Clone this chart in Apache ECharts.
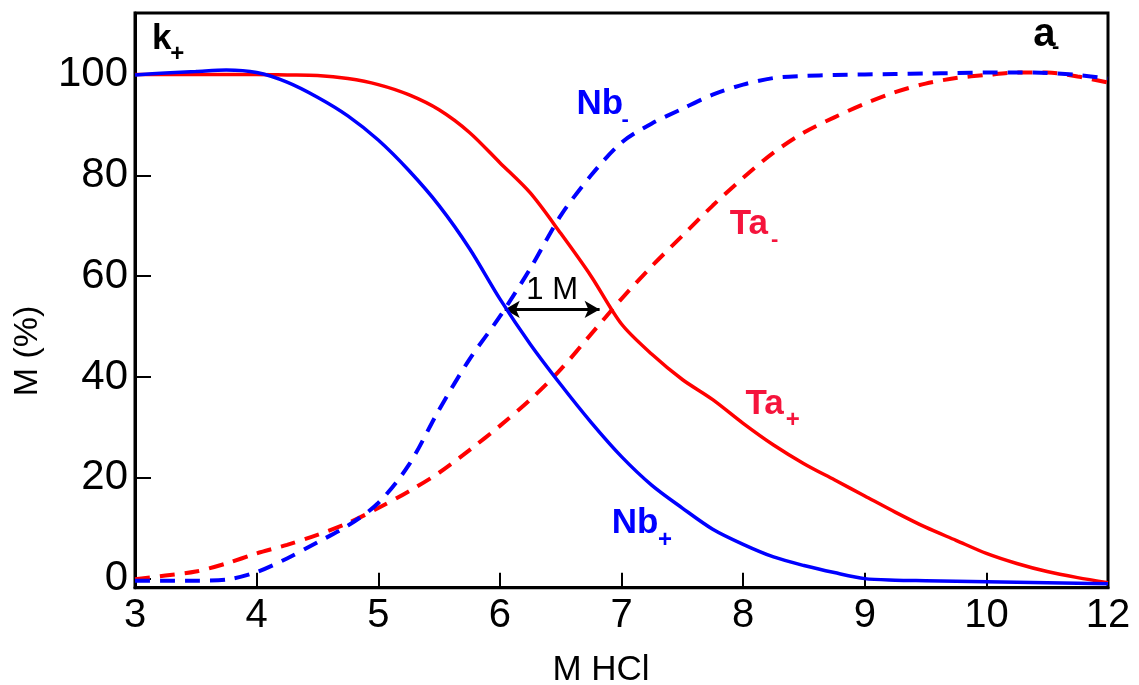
<!DOCTYPE html>
<html>
<head>
<meta charset="utf-8">
<script src="https://cdn.jsdelivr.net/npm/echarts@6/dist/echarts.min.js"></script>
<style>
  html, body { margin: 0; padding: 0; background: #fff; }
  #chart { width: 1139px; height: 685px; }
</style>
</head>
<body>
<div id="chart"></div>
<script>
// HCl molarity at which each curve is sampled
const hcl = [3, 3.25, 3.5, 3.75, 4, 4.25, 4.5, 4.75, 5, 5.25, 5.5, 5.75, 6, 6.25, 6.5, 6.75, 7,
             7.25, 7.5, 7.75, 8, 8.25, 8.5, 8.75, 9, 9.25, 9.5, 9.75, 10, 10.5, 11, 11.5, 12];

// Nb retained on cation exchanger (k+)
const nbPlus = [99.9, 100.3, 100.6, 100.9, 100.4, 98.5, 95.5, 91.8, 87, 81, 74, 65.5, 55.5, 46.5, 38.5, 31, 24.2,
                18.5, 14.0, 9.8, 6.8, 4.3, 2.6, 1.2, 0, -0.3, -0.4, -0.5, -0.6, -0.7, -0.8, -0.9, -1.0];
// Ta retained on cation exchanger (k+)
const taPlus = [100, 100, 100, 100, 100, 99.9, 99.8, 99.2, 98, 96, 93, 88.5, 82.5, 76.5, 68.5, 60, 50.5,
                44.5, 39.5, 35.5, 30.8, 26.5, 22.8, 19.6, 16.4, 13.2, 10.2, 7.6, 5.0, 3.0, 1.4, 0.2, -0.8];
// Nb retained on anion exchanger (a-)
const nbMinus = [-0.4, -0.4, -0.4, -0.2, 1.3, 4.0, 7.2, 10.5, 15.0, 22.5, 33.5, 43.5, 52, 61.5, 72, 80, 86.5,
                 90.3, 93.2, 96, 98, 99.3, 99.7, 99.9, 100, 100.1, 100.2, 100.3, 100.4, 100.4, 100.3, 99.9, 99.2];
// Ta retained on anion exchanger (a-)
const taMinus = [-0.1, 0.6, 1.4, 3.0, 5.0, 6.7, 8.7, 11, 14, 17.3, 21, 25.5, 30.3, 35.5, 41.5, 48.5, 55.5,
                 62, 68, 74, 79.5, 84.5, 88.5, 91.5, 94.2, 96.5, 98.2, 99.3, 99.9, 100.4, 100.4, 99.6, 98.4];

// Tick labels along the HCl axis (equally spaced; last step spans 10 to 12)
const xTickLabels = ['3', '4', '5', '6', '7', '8', '9', '10', '12'];
const yTickValues = [0, 20, 40, 60, 80, 100];

// "1 M" shift between the two cation-exchanger curves at ~53 %
const shiftFrom = 6.04, shiftTo = 6.82, shiftLevel = 53.4;

// position along the equally spaced tick axis for a given molarity
function toPos(m) {
  return m <= 10 ? m - 3 : 7 + (m - 10) / 2;
}
function pairs(vals) {
  return hcl.map((m, i) => [toPos(m), vals[i]]);
}

const BLUE = '#0000ff', RED = '#ff0000', LABEL_RED = '#f5143c';
const FONT = '"Liberation Sans", Arial, Helvetica, sans-serif';

const chart = echarts.init(document.getElementById('chart'), null, { renderer: 'canvas' });

const option = {
  backgroundColor: '#ffffff',
  animation: false,
  grid: {
    left: 135, right: 31, top: 13, bottom: 97.3,
    show: true, borderColor: '#000', borderWidth: 3, backgroundColor: 'transparent'
  },
  xAxis: {
    type: 'value', min: 0, max: 8, interval: 1,
    axisLine: { show: true, onZero: false, lineStyle: { color: '#000', width: 3 } },
    axisTick: { show: true, inside: true, length: 15, lineStyle: { color: '#000', width: 2 } },
    splitLine: { show: false },
    axisLabel: {
      color: '#000', fontSize: 40, fontFamily: FONT, margin: 8,
      formatter: v => xTickLabels[v] !== undefined ? xTickLabels[v] : ''
    }
  },
  yAxis: {
    type: 'value', min: -1.8, max: 112.2,
    axisLine: { show: true, onZero: false, lineStyle: { color: '#000', width: 3 } },
    axisTick: { show: true, inside: true, length: 16, customValues: yTickValues,
                lineStyle: { color: '#000', width: 2 } },
    splitLine: { show: false },
    axisLabel: { color: '#000', fontSize: 42, fontFamily: FONT, margin: 7,
                 customValues: yTickValues }
  },
  series: [
    {
      name: 'Ta-', type: 'line', data: pairs(taMinus), smooth: 0.3, showSymbol: false,
      lineStyle: { color: RED, width: 4, type: [15, 10] }, z: 2
    },
    {
      name: 'Nb-', type: 'line', data: pairs(nbMinus), smooth: 0.3, showSymbol: false,
      lineStyle: { color: BLUE, width: 4, type: [15, 10] }, z: 3
    },
    {
      name: 'Ta+', type: 'line', data: pairs(taPlus), smooth: 0.3, showSymbol: false,
      lineStyle: { color: RED, width: 3.5 }, z: 4
    },
    {
      name: 'Nb+', type: 'line', data: pairs(nbPlus), smooth: 0.3, showSymbol: false,
      lineStyle: { color: BLUE, width: 3.5 }, z: 5,
      markLine: {
        silent: true, animation: false,
        symbol: ['arrow', 'arrow'], symbolSize: [13, 15],
        lineStyle: { color: '#000', width: 3, type: 'solid' },
        label: { show: true, position: 'middle', formatter: '1 M', color: '#000',
                 fontSize: 31, fontFamily: FONT, distance: 3 },
        data: [[{ coord: [toPos(shiftFrom), shiftLevel] }, { coord: [toPos(shiftTo), shiftLevel] }]]
      }
    }
  ]
};
chart.setOption(option);

// Curve and exchanger labels, anchored in data space: [text, molarity, %, size, colour]
const notes = [
  ['k', 3.14, 107.0, 35, '#000'], ['+', 3.29, 104.0, 24, '#000'],
  ['a', 10.77, 107.9, 40, '#000'], ['-', 11.08, 105.4, 22, '#000'],
  ['Nb', 6.63, 94.0, 35, BLUE], ['-', 7.00, 91.0, 22, BLUE],
  ['Ta', 7.89, 70.3, 35, LABEL_RED], ['-', 8.23, 67.1, 22, LABEL_RED],
  ['Ta', 8.02, 34.6, 35, LABEL_RED], ['+', 8.35, 31.4, 24, LABEL_RED],
  ['Nb', 6.92, 10.9, 35, BLUE], ['+', 7.30, 7.5, 24, BLUE]
];

function placeNotes() {
  const els = notes.map(n => {
    const p = chart.convertToPixel({ gridIndex: 0 }, [toPos(n[1]), n[2]]);
    return {
      type: 'text', x: p[0], y: p[1], z: 10,
      style: { text: n[0], fill: n[4], font: 'bold ' + n[3] + 'px ' + FONT,
               align: 'left', verticalAlign: 'middle' }
    };
  });
  els.push({
    type: 'text', x: 601, y: 670, z: 10,
    style: { text: 'M HCl', fill: '#000', font: '35px ' + FONT, align: 'center', verticalAlign: 'middle' }
  });
  els.push({
    type: 'text', x: 28, y: 351, rotation: Math.PI / 2, z: 10,
    style: { text: 'M (%)', fill: '#000', font: '34px ' + FONT, align: 'center', verticalAlign: 'middle' }
  });
  chart.setOption({ graphic: { elements: els } });
}
placeNotes();
</script>
</body>
</html>
